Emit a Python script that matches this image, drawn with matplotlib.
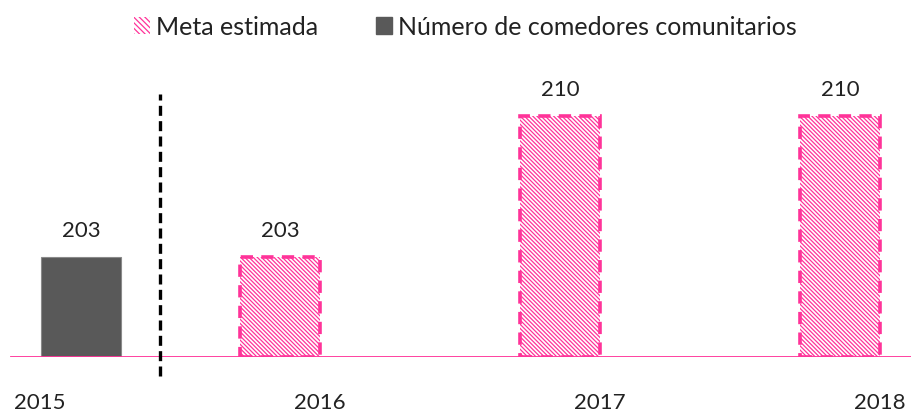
import matplotlib
matplotlib.use("Agg")
import matplotlib.pyplot as plt
from matplotlib.patches import Patch

# ---- data ----
years = ["2015", "2016", "2017", "2018"]
values = [203, 203, 210, 210]
is_goal = [False, True, True, True]
series_labels = ["Meta estimada", "Número de comedores comunitarios"]

plt.rcParams['font.family'] = ['Lato', 'DejaVu Sans']
plt.rcParams['hatch.linewidth'] = 0.9

PINK = "#FF3399"
GRAY = "#595959"
HATCH = "\\" * 8

W, H, DPI = 911, 414, 100
fig = plt.figure(figsize=(W / DPI, H / DPI), dpi=DPI)
ax = fig.add_axes([0, 56 / H, 1, 1 - 56 / H])

px_per_cat = 280.0
x0_px = 40.0
ax.set_xlim(-x0_px / px_per_cat, (W - x0_px) / px_per_cat)
ybase = 198
px_per_unit = 20.1
ax.set_ylim(ybase, ybase + (H - 56) / px_per_unit)

bar_w = 80 / px_per_cat
for i, (yr, v, g) in enumerate(zip(years, values, is_goal)):
    if g:
        xc = i - 40 / px_per_cat
        ax.bar(xc, v - ybase, bottom=ybase, width=bar_w, facecolor="white",
               edgecolor=PINK, hatch=HATCH, linewidth=2.6,
               linestyle=(0, (3.4, 2.3)), zorder=2)
    else:
        xc = i + 41 / px_per_cat
        ax.bar(xc, v - ybase, bottom=ybase, width=bar_w, facecolor=GRAY,
               edgecolor="#8a8a8a", linewidth=0.8, zorder=2)
    ax.annotate(str(v), (xc, v), xytext=(0, 12), textcoords="offset points",
                ha="center", va="bottom", fontsize=16, color="#222222")

# baseline
ax.axhline(ybase, xmin=11 / W, xmax=1, color=PINK, linewidth=1.3, zorder=3)

# dashed separator
sep_x = 120 / px_per_cat
ax.plot([sep_x, sep_x], [ybase - 19 / px_per_unit, ybase + 263 / px_per_unit],
        color="black", linewidth=2.4, linestyle=(0, (3, 1.6)),
        clip_on=False, zorder=4)

ax.set_xticks(range(len(years)))
ax.set_xticklabels(years, fontsize=16, color="#222222")
ax.tick_params(axis="x", length=0, pad=25)
ax.set_yticks([])
for s in ax.spines.values():
    s.set_visible(False)

handles = [Patch(facecolor="white", edgecolor=PINK, hatch="\\" * 6, linewidth=0),
           Patch(facecolor=GRAY, edgecolor=GRAY)]
fig.legend(handles, series_labels, loc="upper center", bbox_to_anchor=(0.511, 1.015),
           ncol=2, frameon=False, fontsize=18, handlelength=0.64, handleheight=0.64,
           handletextpad=0.25, columnspacing=2.3, labelcolor="#222222")

fig.savefig("out.png", dpi=DPI)
